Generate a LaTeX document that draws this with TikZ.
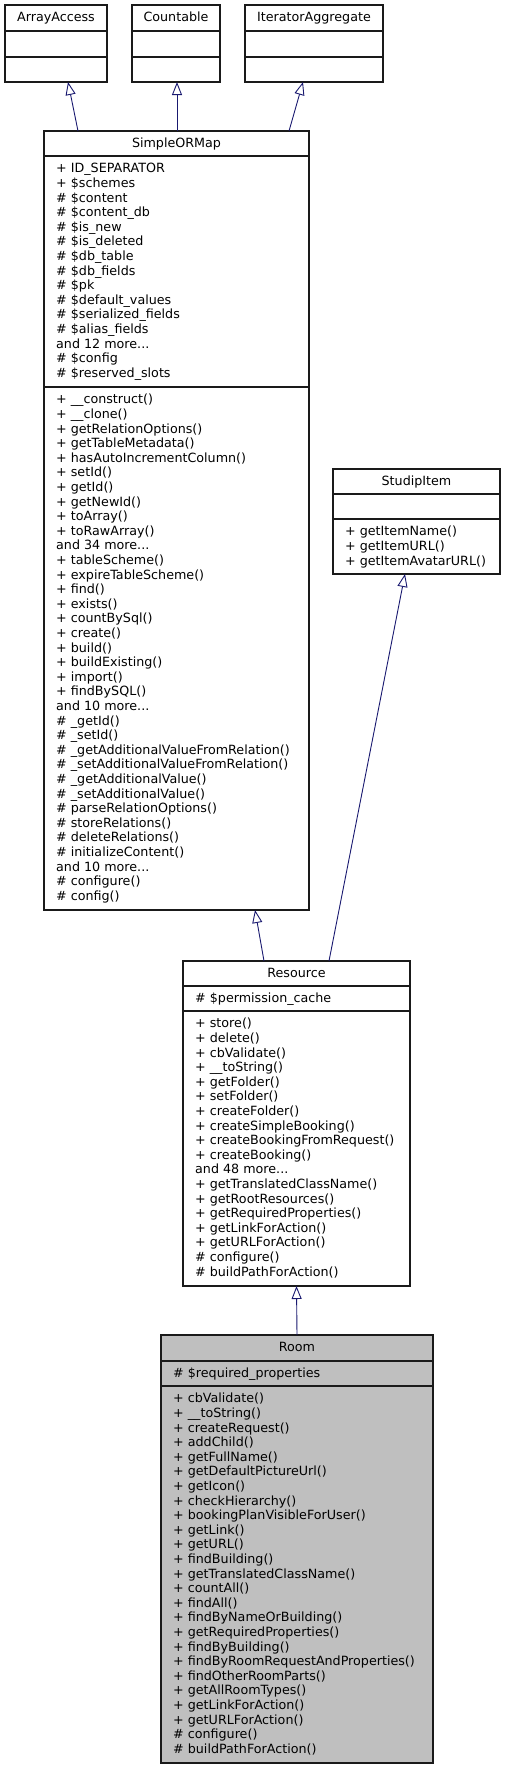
\documentclass[tikz,border=0pt]{standalone}
\usepackage{fontspec}
\setmainfont{DejaVu Sans}
\usetikzlibrary{arrows.meta,calc}
\definecolor{edgeblue}{HTML}{191970}
\definecolor{roomfill}{HTML}{BFBFBF}
\definecolor{boxline}{HTML}{1A1A1A}
\newcommand\tdots{...}
\newcommand\classlines[4]{%
  \foreach \lineitem [count=\i from 0] in {#4} {\node[txt] (#1-\i) at (#2, #3+\i*14.6) {\lineitem};}%
}
\begin{document}
\begin{tikzpicture}[x=1pt,y=-1pt,
  umlbox/.style={draw=boxline, line width=1.1pt, rectangle, inner sep=0pt, outer sep=0pt, anchor=north west},
  sep/.style={draw=boxline, line width=1.1pt},
  txt/.style={anchor=base west, inner sep=0pt, text=black, font=\fontsize{12.7}{14.6}\selectfont},
  hdr/.style={anchor=base, inner sep=0pt, text=black, font=\fontsize{12.7}{14.6}\selectfont},
  inh/.style={draw=edgeblue, line width=0.9pt, -{Triangle[open, length=13pt, width=10pt]}}
]
\fill[white] (0,0) rectangle (505,1769);
\useasboundingbox (0,0) rectangle (505,1769);

% ---- ArrayAccess
\node[umlbox, minimum width=102pt, minimum height=77pt] (aa) at (5,5) {};
\draw[sep] ($(aa.north west)+(0,26)$) -- ($(aa.north east)+(0,26)$);
\draw[sep] ($(aa.north west)+(0,52)$) -- ($(aa.north east)+(0,52)$);
\node[hdr] (aa-h) at (56,21.8) {ArrayAccess};

% ---- Countable
\node[umlbox, minimum width=88pt, minimum height=77pt] (cn) at (132,5) {};
\draw[sep] ($(cn.north west)+(0,26)$) -- ($(cn.north east)+(0,26)$);
\draw[sep] ($(cn.north west)+(0,52)$) -- ($(cn.north east)+(0,52)$);
\node[hdr] (cn-h) at (176,21.8) {Countable};

% ---- IteratorAggregate
\node[umlbox, minimum width=138pt, minimum height=77pt] (ia) at (245,5) {};
\draw[sep] ($(ia.north west)+(0,26)$) -- ($(ia.north east)+(0,26)$);
\draw[sep] ($(ia.north west)+(0,52)$) -- ($(ia.north east)+(0,52)$);
\node[hdr] (ia-h) at (314,21.8) {IteratorAggregate};

% ---- SimpleORMap
\node[umlbox, minimum width=265pt, minimum height=779pt] (sm) at (44,131) {};
\draw[sep] ($(sm.north west)+(0,25)$) -- ($(sm.north east)+(0,25)$);
\draw[sep] ($(sm.north west)+(0,256)$) -- ($(sm.north east)+(0,256)$);
\node[hdr] (sm-h) at (176.5,147.8) {SimpleORMap};
\classlines{sma}{56}{172.9}{+ ID\_SEPARATOR, + \$schemes, \# \$content, \# \$content\_db, \# \$is\_new, \# \$is\_deleted, \# \$db\_table, \# \$db\_fields, \# \$pk, \# \$default\_values, \# \$serialized\_fields, \# \$alias\_fields, and 12 more\tdots, \# \$config, \# \$reserved\_slots}
\classlines{smm}{56}{403.9}{+ \_\_construct(), + \_\_clone(), + getRelationOptions(), + getTableMetadata(), + hasAutoIncrementColumn(), + setId(), + getId(), + getNewId(), + toArray(), + toRawArray(), and 34 more\tdots, + tableScheme(), + expireTableScheme(), + find(), + exists(), + countBySql(), + create(), + build(), + buildExisting(), + import(), + findBySQL(), and 10 more\tdots, \# \_getId(), \# \_setId(), \# \_getAdditionalValueFromRelation(), \# \_setAdditionalValueFromRelation(), \# \_getAdditionalValue(), \# \_setAdditionalValue(), \# parseRelationOptions(), \# storeRelations(), \# deleteRelations(), \# initializeContent(), and 10 more\tdots, \# configure(), \# config()}

% ---- StudipItem
\node[umlbox, minimum width=167pt, minimum height=105pt] (si) at (333,469) {};
\draw[sep] ($(si.north west)+(0,25)$) -- ($(si.north east)+(0,25)$);
\draw[sep] ($(si.north west)+(0,50)$) -- ($(si.north east)+(0,50)$);
\node[hdr] (si-h) at (416.5,485.8) {StudipItem};
\classlines{sim}{345}{535.9}{+ getItemName(), + getItemURL(), + getItemAvatarURL()}

% ---- Resource
\node[umlbox, minimum width=227pt, minimum height=325pt] (rs) at (183,961) {};
\draw[sep] ($(rs.north west)+(0,25)$) -- ($(rs.north east)+(0,25)$);
\draw[sep] ($(rs.north west)+(0,50)$) -- ($(rs.north east)+(0,50)$);
\node[hdr] (rs-h) at (296.5,977.8) {Resource};
\classlines{rsa}{195}{1002.9}{\# \$permission\_cache}
\classlines{rsm}{195}{1027.9}{+ store(), + delete(), + cbValidate(), + \_\_toString(), + getFolder(), + setFolder(), + createFolder(), + createSimpleBooking(), + createBookingFromRequest(), + createBooking(), and 48 more\tdots, + getTranslatedClassName(), + getRootResources(), + getRequiredProperties(), + getLinkForAction(), + getURLForAction(), \# configure(), \# buildPathForAction()}

% ---- Room
\node[umlbox, fill=roomfill, minimum width=272pt, minimum height=428pt] (rm) at (161,1335) {};
\draw[sep] ($(rm.north west)+(0,26)$) -- ($(rm.north east)+(0,26)$);
\draw[sep] ($(rm.north west)+(0,51)$) -- ($(rm.north east)+(0,51)$);
\node[hdr] (rm-h) at (297,1351.8) {Room};
\classlines{rma}{173}{1377.9}{\# \$required\_properties}
\classlines{rmm}{173}{1402.9}{+ cbValidate(), + \_\_toString(), + createRequest(), + addChild(), + getFullName(), + getDefaultPictureUrl(), + getIcon(), + checkHierarchy(), + bookingPlanVisibleForUser(), + getLink(), + getURL(), + findBuilding(), + getTranslatedClassName(), + countAll(), + findAll(), + findByNameOrBuilding(), + getRequiredProperties(), + findByBuilding(), + findByRoomRequestAndProperties(), + findOtherRoomParts(), + getAllRoomTypes(), + getLinkForAction(), + getURLForAction(), \# configure(), \# buildPathForAction()}

% ---- inheritance connectors
\draw[inh] ($(sm.north west)+(34,0)$) -- ($(aa.south west)+(63,0)$);
\draw[inh] ($(sm.north west)+(133,0)$) -- ($(cn.south west)+(45,0)$);
\draw[inh] ($(sm.north west)+(245,0)$) -- ($(ia.south west)+(58,0)$);
\draw[inh] ($(rs.north west)+(81,0)$) -- ($(sm.south west)+(211,0)$);
\draw[inh] ($(rs.north west)+(146,0)$) -- ($(si.south west)+(72,0)$);
\draw[inh] (rm.north) -- (rs.south);
\end{tikzpicture}
\end{document}
